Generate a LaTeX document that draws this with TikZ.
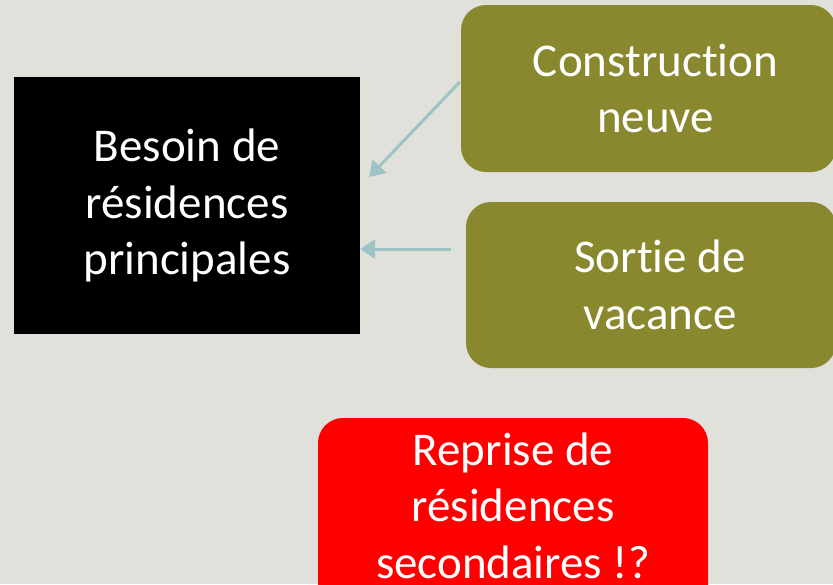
\documentclass[tikz,border=0pt]{standalone}
\usepackage{fontspec}
\setmainfont{Carlito}[Ligatures={NoCommon}]
\usetikzlibrary{arrows.meta,calc}
\definecolor{bg}{HTML}{E0E1DB}
\definecolor{olive}{HTML}{8A882E}
\definecolor{teal}{HTML}{9DC3C6}
\definecolor{rouge}{HTML}{FF0000}
\tikzset{
  box/.style={inner sep=0pt, align=center, text=white,
    font=\fontsize{47}{56.5}\selectfont},
  arr/.style={draw=teal, line width=3pt, -{Triangle[length=15pt,width=19pt]}}
}
\begin{document}
\begin{tikzpicture}[x=1pt,y=-1pt]
\useasboundingbox (0,0) rectangle (833,584);
\fill[bg] (0,0) rectangle (833,584);
\clip (0,0) rectangle (833,584);
\node[box, fill=black, rectangle, minimum width=346pt, minimum height=257pt] (besoin) at (187,205.5) {Besoin de\\résidences\\principales};
\node[box, fill=olive, rounded corners=25pt, minimum width=375pt, minimum height=167pt] (constr) at (648.5,88.5) {\hspace*{14pt}Construction\\\hspace*{14pt}neuve};
\node[box, fill=olive, rounded corners=25pt, minimum width=370pt, minimum height=166pt] (sortie) at (651,285) {\hspace*{18pt}Sortie de\\\hspace*{18pt}vacance};
\node[box, fill=rouge, rounded corners=25pt, minimum width=390pt, minimum height=231.5pt] (reprise) at (513,533.75) {Reprise de\\résidences\\secondaires !?\\\rule{0pt}{1pt}};
\draw[arr] ($(constr.west)+(-1,-6.5)$) -- ($(besoin.east)+(9,-28.5)$);
\draw[arr] ($(sortie.west)+(-15,-36)$) -- ($(besoin.east)+(0,43.5)$);
\end{tikzpicture}
\end{document}
